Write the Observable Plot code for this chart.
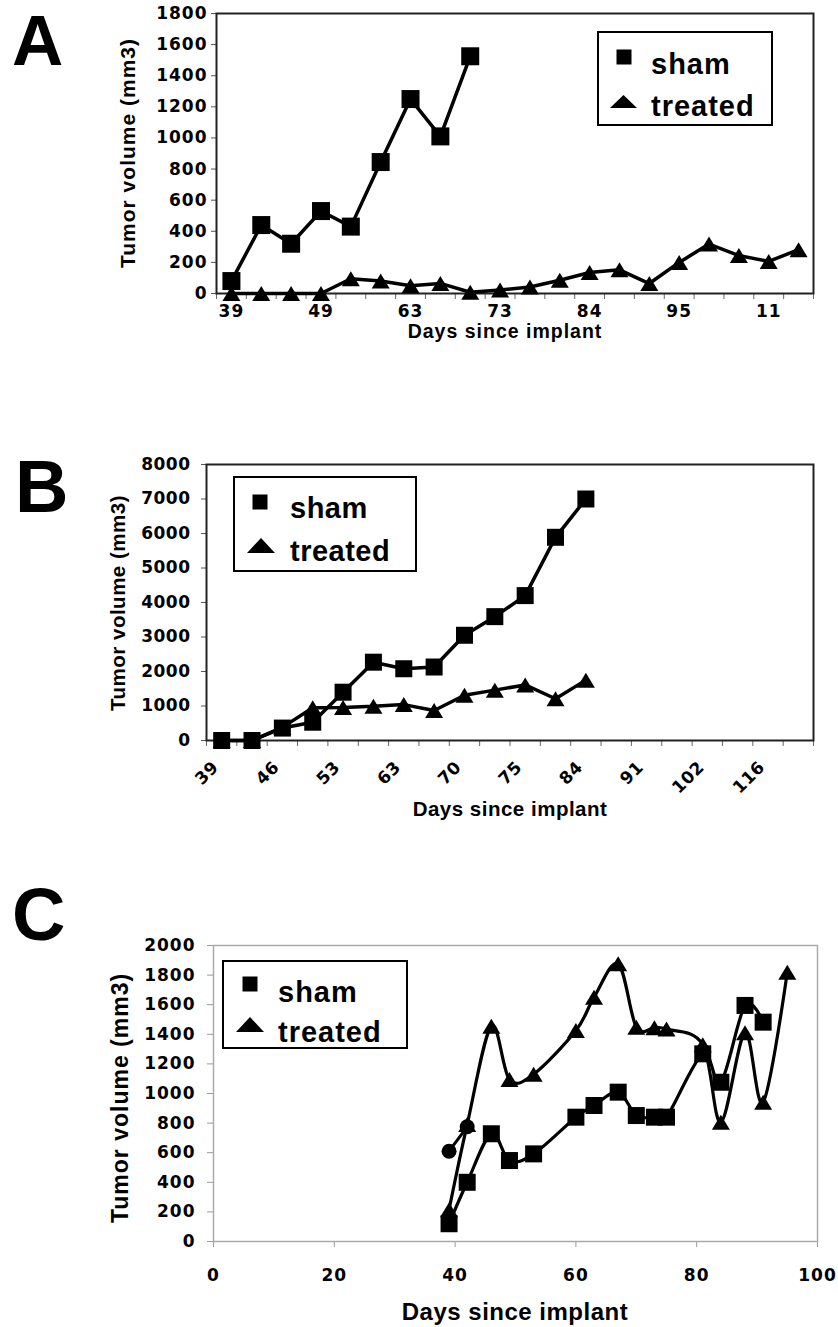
<!DOCTYPE html>
<html><head><meta charset="utf-8">
<script src="https://cdn.jsdelivr.net/npm/d3@7"></script>
<script src="https://cdn.jsdelivr.net/npm/@observablehq/plot@0.6"></script>
<style>
body{margin:0;background:#fff;}
#wrap{position:relative;width:838px;height:1327px;overflow:hidden;background:#fff;}
#wrap svg{position:absolute;left:0;}
</style></head><body><div id="wrap"></div>
<script>
// ---------- Panel A ----------
const daysA = ["39","42","46","49","53","56","63","67","70","73","77","81","84","88","91","95","98","102","11","116"];
const shamA = [80,440,320,530,430,845,1250,1010,1525];
const treatedA = [0,0,0,0,95,80,50,65,8,22,42,85,135,152,64,200,318,244,206,282];
const yTicksA = [0,200,400,600,800,1000,1200,1400,1600,1800];

// ---------- Panel B ----------
const daysB = ["39","42","46","49","53","56","63","67","70","73","75","77","84","88","91","95","102","109","116","123"];
const shamB = [0,0,360,530,1400,2270,2080,2130,3050,3590,4200,5890,7000];
const treatedB = [0,0,380,950,960,990,1040,870,1310,1460,1610,1210,1750];
const yTicksB = [0,1000,2000,3000,4000,5000,6000,7000,8000];

// ---------- Panel C ----------
const shamCDays = [39,42,46,49,53,60,63,67,70,73,75,81,84,88,91];
const shamC = [120,400,728,547,592,840,919,1009,851,840,840,1268,1076,1595,1482];
const treatedCDays = [39,42,46,49,53,60,63,67,70,73,75,81,84,88,91,95];
const treatedC = [215,790,1455,1095,1130,1425,1650,1876,1448,1445,1435,1330,806,1410,941,1820];
const extraCDays = [39,42];
const extraC = [610,775];
const xTicksC = [0,20,40,60,80,100];
const yTicksC = [0,200,400,600,800,1000,1200,1400,1600,1800,2000];

const seriesNames = ["sham","treated"];
const panelLetters = ["A","B","C"];
const yTitle = "Tumor volume (mm3)";
const xTitle = "Days since implant";

// custom marker symbols (size = pi r^2)
const sq = {draw(ctx, size){ const r = Math.sqrt(size/Math.PI); ctx.moveTo(-r,-r); ctx.lineTo(r,-r); ctx.lineTo(r,r); ctx.lineTo(-r,r); ctx.closePath(); }};
const tri = {draw(ctx, size){ const r = Math.sqrt(size/Math.PI); const w = 1.2*r, h = r; ctx.moveTo(0,-h); ctx.lineTo(w,h); ctx.lineTo(-w,h); ctx.closePath(); }};
const plain = d3.format("d");

const wrap = document.getElementById("wrap");
const SANS = "'Liberation Sans', Arial, sans-serif";

function place(svg, top){ svg.style.top = top + "px"; wrap.appendChild(svg); return svg; }
function txt(svg, top, o){
  const t = d3.select(svg).append("text")
    .attr("font-family", o.family || SANS).attr("font-weight","bold")
    .attr("font-size", o.size).attr("fill","black")
    .attr("text-anchor", o.anchor || "start").text(o.text);
  if (o.ls) t.attr("letter-spacing", o.ls);
  if (o.rotate) { t.attr("transform", `translate(${o.x},${o.y-top}) rotate(${o.rotate})`).attr("dy","0.35em"); }
  else t.attr("x", o.x).attr("y", o.y - top);
  return t;
}
function legend(svg, top, L){
  const g = d3.select(svg).append("g");
  g.append("rect").attr("x",L.x0).attr("y",L.y0-top).attr("width",L.x1-L.x0).attr("height",L.y1-L.y0)
    .attr("fill","white").attr("stroke","black").attr("stroke-width",2);
  const s = L.sq;
  g.append("rect").attr("x",s[0]-s[2]/2).attr("y",s[1]-s[2]/2-top).attr("width",s[2]).attr("height",s[2]).attr("fill","black");
  const t = L.tri; // cx, top, bottom, width
  g.append("path").attr("d",`M${t[0]},${t[1]-top}L${t[0]+t[3]/2},${t[2]-top}L${t[0]-t[3]/2},${t[2]-top}Z`).attr("fill","black");
  txt(svg, top, {x:L.tx, y:L.b1, text:seriesNames[0], size:29});
  txt(svg, top, {x:L.tx, y:L.b2, text:seriesNames[1], size:29});
}

// ===== Panel A =====
{
  const top = 0, H = 380;
  const svg = Plot.plot({
    width:838, height:H, marginTop:13, marginBottom:H-293, marginLeft:216, marginRight:25,
    x:{domain:[0, daysA.length]}, y:{domain:[0,1800]},
    style:{fontFamily:"'DejaVu Sans', sans-serif", fontWeight:"bold", fontSize:"17px", color:"black", letterSpacing:"1px", background:"transparent"},
    marks:[
      Plot.axisY({ticks:yTicksA, tickSize:5, tickPadding:4, stroke:"#555", tickFormat:plain, label:null}),
      Plot.axisX({ticks:d3.range(0, daysA.length+1), tickSize:6, tickFormat:()=>"", stroke:"#666", label:null}),
      Plot.axisX({ticks:d3.range(0, daysA.length, 3).map(i=>i+0.5), tickSize:0, tickPadding:11, tickFormat:v=>daysA[Math.round(v-0.5)], label:null}),
      Plot.frame({stroke:"#222", strokeWidth:2}),
      Plot.line(treatedA, {x:(d,i)=>i+0.5, y:d=>d, stroke:"black", strokeWidth:3.5}),
      Plot.dot(treatedA, {x:(d,i)=>i+0.5, y:d=>d, symbol:tri, r:7.5, fill:"black", stroke:"none"}),
      Plot.line(shamA, {x:(d,i)=>i+0.5, y:d=>d, stroke:"black", strokeWidth:3.5}),
      Plot.dot(shamA, {x:(d,i)=>i+0.5, y:d=>d, symbol:sq, r:9, fill:"black", stroke:"none"})
    ]
  });
  place(svg, top);
  txt(svg, top, {x:12, y:65, text:panelLetters[0], size:71});
  txt(svg, top, {x:128, y:153, text:yTitle, size:21, rotate:-90, anchor:"middle"});
  txt(svg, top, {x:505, y:338, text:xTitle, size:19.5, anchor:"middle"});
  legend(svg, top, {x0:598, y0:32, x1:772, y1:125, sq:[624,57,15], tri:[623.5,95,108,27], tx:651, b1:74, b2:116});
}

// ===== Panel B =====
{
  const top = 420, H = 430;
  const svg = Plot.plot({
    width:838, height:H, marginTop:464-top, marginBottom:top+H-740, marginLeft:206, marginRight:25,
    x:{domain:[0, daysB.length]}, y:{domain:[0,8000]},
    style:{fontFamily:"'DejaVu Sans', sans-serif", fontWeight:"bold", fontSize:"17px", color:"black", letterSpacing:"0.5px", background:"transparent"},
    marks:[
      Plot.axisY({ticks:yTicksB, tickSize:5, tickPadding:11, stroke:"#555", tickFormat:plain, label:null}),
      Plot.axisX({ticks:d3.range(0, daysB.length+1), tickSize:6, tickFormat:()=>"", stroke:"#666", label:null}),
      Plot.axisX({ticks:d3.range(0, daysB.length, 2).map(i=>i+0.5), tickSize:0, tickPadding:24, tickRotate:-45, dx:-6, tickFormat:v=>daysB[Math.round(v-0.5)], label:null}),
      Plot.frame({stroke:"#222", strokeWidth:2}),
      Plot.line(treatedB, {x:(d,i)=>i+0.5, y:d=>d, stroke:"black", strokeWidth:3.5}),
      Plot.dot(treatedB, {x:(d,i)=>i+0.5, y:d=>d, symbol:tri, r:7.5, fill:"black", stroke:"none"}),
      Plot.line(shamB, {x:(d,i)=>i+0.5, y:d=>d, stroke:"black", strokeWidth:3.5}),
      Plot.dot(shamB, {x:(d,i)=>i+0.5, y:d=>d, symbol:sq, r:8.5, fill:"black", stroke:"none"})
    ]
  });
  place(svg, top);
  txt(svg, top, {x:15, y:512, text:panelLetters[1], size:74});
  txt(svg, top, {x:118, y:603, text:yTitle, size:20.5, rotate:-90, anchor:"middle"});
  txt(svg, top, {x:510, y:816, text:xTitle, size:20.5, anchor:"middle"});
  legend(svg, top, {x0:234, y0:477, x1:416, y1:571, sq:[260,502,15], tri:[261,538,553,28], tx:290, b1:518, b2:561});
}

// ===== Panel C =====
{
  const top = 860, H = 467;
  const svg = Plot.plot({
    width:838, height:H, marginTop:945-top, marginBottom:top+H-1241, marginLeft:213, marginRight:21,
    x:{domain:[0,100]}, y:{domain:[0,2000]},
    style:{fontFamily:"'DejaVu Sans', sans-serif", fontWeight:"bold", fontSize:"17px", color:"black", letterSpacing:"1px", background:"transparent"},
    marks:[
      Plot.axisY({ticks:yTicksC, tickSize:6, tickPadding:12, stroke:"#999", tickFormat:plain, label:null}),
      Plot.axisX({ticks:xTicksC, tickSize:6, tickPadding:21, stroke:"#999", tickFormat:plain, label:null}),
      Plot.frame({stroke:"#aaa", strokeWidth:1.5}),
      Plot.line(extraC, {x:(d,i)=>extraCDays[i], y:d=>d, stroke:"black", strokeWidth:3}),
      Plot.dot(extraC, {x:(d,i)=>extraCDays[i], y:d=>d, r:7.5, fill:"black", stroke:"none"}),
      Plot.line(treatedC, {x:(d,i)=>treatedCDays[i], y:d=>d, stroke:"black", strokeWidth:3.2, curve:"cardinal", tension:0}),
      Plot.dot(treatedC, {x:(d,i)=>treatedCDays[i], y:d=>d, symbol:tri, r:7.5, fill:"black", stroke:"none"}),
      Plot.line(shamC, {x:(d,i)=>shamCDays[i], y:d=>d, stroke:"black", strokeWidth:3.2, curve:"cardinal", tension:0}),
      Plot.dot(shamC, {x:(d,i)=>shamCDays[i], y:d=>d, symbol:sq, r:8.5, fill:"black", stroke:"none"})
    ]
  });
  place(svg, top);
  txt(svg, top, {x:12, y:940, text:panelLetters[2], size:74});
  txt(svg, top, {x:120, y:1098, text:yTitle, size:23, rotate:-90, anchor:"middle"});
  txt(svg, top, {x:515, y:1320, text:xTitle, size:24, anchor:"middle", ls:"0.5px"});
  legend(svg, top, {x0:223, y0:961, x1:407, y1:1048, sq:[250,984,15], tri:[250,1017,1032,28], tx:278, b1:1002, b2:1042});
}
</script></body></html>
